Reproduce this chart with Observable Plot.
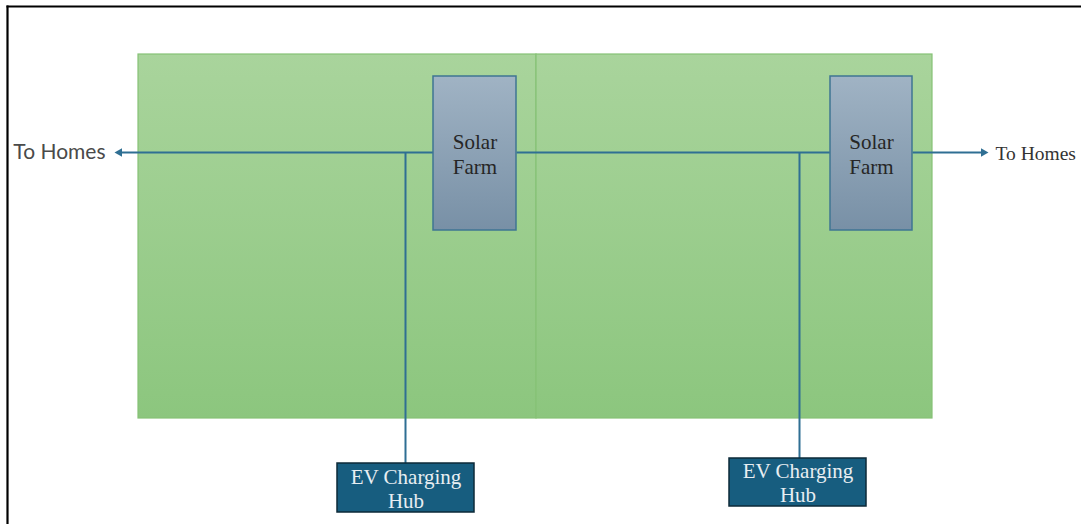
<!DOCTYPE html>
<html>
<head>
<meta charset="utf-8">
<script src="https://cdn.jsdelivr.net/npm/d3@7"></script>
<script src="https://cdn.jsdelivr.net/npm/@observablehq/plot@0.6"></script>
<style>
html,body{margin:0;padding:0;background:#fff;overflow:hidden;}
</style>
</head>
<body>
<div id="chart"></div>
<script>
// Diagram data (diagram coordinate units)
const fields = [
  {name: "Field A", x1: 138, x2: 536, y1: 54, y2: 418},
  {name: "Field B", x1: 536, x2: 932, y1: 54, y2: 418}
];
const solarFarms = [
  {label: "Solar\nFarm", x1: 433, x2: 516, y1: 76, y2: 230},
  {label: "Solar\nFarm", x1: 830, x2: 912, y1: 76, y2: 230}
];
const evHubs = [
  {label: "EV Charging\nHub", x1: 337, x2: 474, y1: 463, y2: 512},
  {label: "EV Charging\nHub", x1: 729, x2: 866, y1: 458, y2: 506}
];
const busLines = [
  {x1: 118, y1: 152, x2: 433, y2: 152},
  {x1: 516, y1: 152, x2: 830, y2: 152},
  {x1: 912, y1: 152, x2: 984, y2: 152},
  {x1: 405, y1: 152, x2: 405, y2: 463},
  {x1: 799, y1: 152, x2: 799, y2: 458}
];
const arrowHeads = [
  {x: 119, y: 152, dir: -90},
  {x: 983, y: 152, dir: 90}
];
const leftHome = [{text: "To Homes", x: 105, y: 152}];
const rightHome = [{text: "To Homes", x: 995, y: 153}];

const W = 1081, H = 524;
const lineColor = "#2f6f93";
const serif = "'Liberation Serif', 'DejaVu Serif', serif";

const plot = Plot.plot({
  width: W,
  height: H,
  margin: 0,
  x: {domain: [0, W], axis: null},
  y: {domain: [H, 0], axis: null},
  style: {background: "#fff", overflow: "hidden"},
  marks: [
    Plot.rect(fields, {x1: "x1", x2: "x2", y1: "y1", y2: "y2", fill: "url(#fieldGrad)", stroke: "#86c276", strokeWidth: 1.2}),
    Plot.link(busLines, {x1: "x1", y1: "y1", x2: "x2", y2: "y2", stroke: lineColor, strokeWidth: 2}),
    Plot.dot(arrowHeads, {x: "x", y: "y", symbol: "triangle", r: 3.2, rotate: "dir", fill: lineColor, stroke: "none"}),
    Plot.rect(solarFarms, {x1: "x1", x2: "x2", y1: "y1", y2: "y2", fill: "url(#solarGrad)", stroke: "#3f7593", strokeWidth: 1.5}),
    Plot.text(solarFarms, {x: d => (d.x1 + d.x2) / 2, y: 153, text: "label", fontSize: 21, lineHeight: 1.2, fill: "#262626", fontFamily: serif}),
    Plot.rect(evHubs, {x1: "x1", x2: "x2", y1: "y1", y2: "y2", fill: "#175d7f", stroke: "#0d2a38", strokeWidth: 1.5}),
    Plot.text(evHubs, {x: d => (d.x1 + d.x2) / 2, y: d => (d.y1 + d.y2) / 2, text: "label", fontSize: 21, lineHeight: 1.15, fill: "#e8eef2", fontFamily: serif}),
    Plot.text(leftHome, {x: "x", y: "y", text: "text", textAnchor: "end", fontSize: 21, fill: "#4a4a4a", fontFamily: "Lato, 'Open Sans', sans-serif"}),
    Plot.text(rightHome, {x: "x", y: "y", text: "text", textAnchor: "start", fontSize: 19.5, fill: "#333", fontFamily: serif})
  ]
});

const defs = d3.select(plot).insert("defs", ":first-child");
const fg = defs.append("linearGradient").attr("id", "fieldGrad").attr("x1", 0).attr("y1", 0).attr("x2", 0).attr("y2", 1);
fg.append("stop").attr("offset", "0%").attr("stop-color", "#a9d49c");
fg.append("stop").attr("offset", "100%").attr("stop-color", "#8cc67e");
const sg = defs.append("linearGradient").attr("id", "solarGrad").attr("x1", 0).attr("y1", 0).attr("x2", 0).attr("y2", 1);
sg.append("stop").attr("offset", "0%").attr("stop-color", "#a0b3c4");
sg.append("stop").attr("offset", "100%").attr("stop-color", "#7890a6");

const svg = d3.select(plot);
svg.append("line").attr("x1", 7.5).attr("x2", 7.5).attr("y1", 5.5).attr("y2", H).attr("stroke", "#000").attr("stroke-width", 2.2);
svg.append("line").attr("x1", 6.5).attr("x2", W).attr("y1", 6.5).attr("y2", 6.5).attr("stroke", "#000").attr("stroke-width", 2.2);

document.getElementById("chart").appendChild(plot);
</script>
</body>
</html>
